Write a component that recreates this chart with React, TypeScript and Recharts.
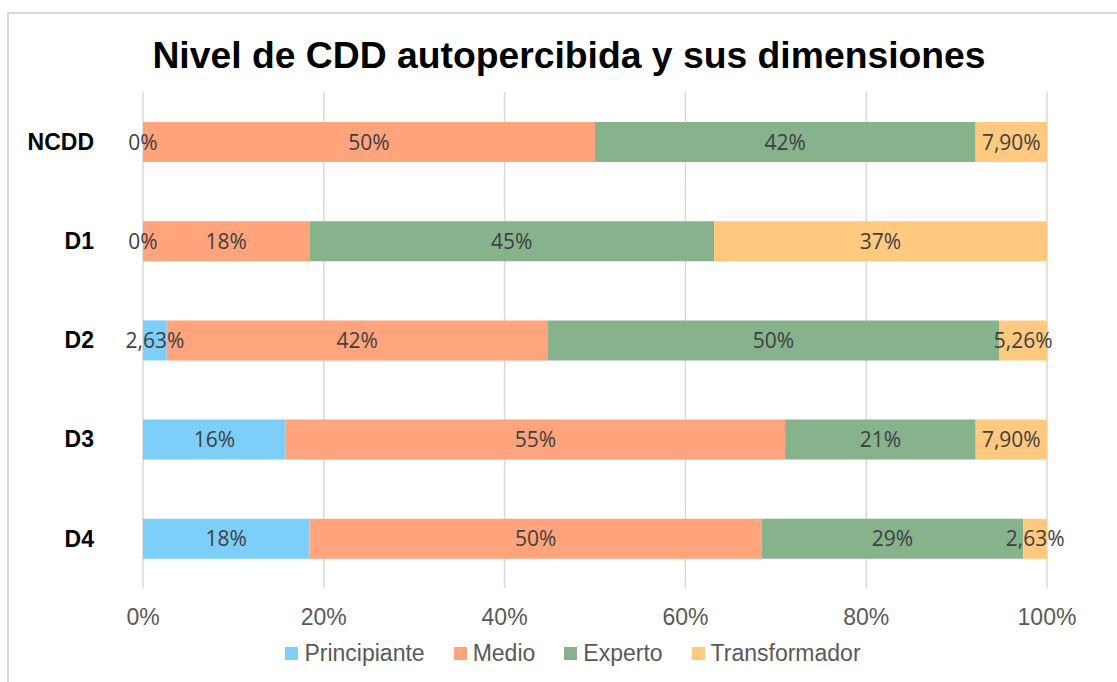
import { Bar, BarChart, CartesianGrid, LabelList, XAxis, YAxis } from "recharts";

const categories = ["NCDD", "D1", "D2", "D3", "D4"];

const principiante = [0, 0, 2.63, 15.8, 18.4];
const medio = [50, 18.4, 42.1, 55.3, 50];
const experto = [42.1, 44.7, 50, 21.1, 28.9];
const transformador = [7.9, 36.8, 5.26, 7.9, 2.63];

const principianteLabels = ["0%", "0%", "2,63%", "16%", "18%"];
const medioLabels = ["50%", "18%", "42%", "55%", "50%"];
const expertoLabels = ["42%", "45%", "50%", "21%", "29%"];
const transformadorLabels = ["7,90%", "37%", "5,26%", "7,90%", "2,63%"];

const xTicks = [0, 0.2, 0.4, 0.6, 0.8, 1];

const series = [
  { key: "principiante", name: "Principiante", color: "#7DCEF8" },
  { key: "medio", name: "Medio", color: "#FFA47C" },
  { key: "experto", name: "Experto", color: "#86B28C" },
  { key: "transformador", name: "Transformador", color: "#FFC980" },
];

const data = categories.map((name, i) => ({
  name,
  principiante: principiante[i],
  medio: medio[i],
  experto: experto[i],
  transformador: transformador[i],
  principianteLabel: principianteLabels[i],
  medioLabel: medioLabels[i],
  expertoLabel: expertoLabels[i],
  transformadorLabel: transformadorLabels[i],
}));

const sans = "'Liberation Sans', Arial, sans-serif";

// draws the label even when the segment has zero width (the "0%" ones)
const SegmentLabel = (props: any) => {
  const { x, y, width, height, value } = props;
  if (value == null || x == null) return null;
  return (
    <text
      x={Number(x) + Number(width || 0) / 2}
      y={Number(y) + Number(height || 0) / 2}
      dy="0.36em"
      textAnchor="middle"
      fill="#404040"
      fontSize={21}
      fontFamily="'Open Sans', sans-serif"
    >
      {value}
    </text>
  );
};

export default function App() {
  return (
    <div
      style={{
        position: "absolute",
        left: 0,
        top: 0,
        width: 1117,
        height: 682,
        overflow: "hidden",
        background: "#fff",
        fontFamily: sans,
      }}
    >
      <div
        style={{
          position: "absolute",
          left: 7,
          top: 12,
          width: 1200,
          height: 800,
          borderTop: "2px solid #D9D9D9",
          borderLeft: "2px solid #D9D9D9",
        }}
      />

      <div
        style={{
          position: "absolute",
          left: 0,
          width: 1138,
          top: 37,
          textAlign: "center",
          fontSize: 37.3,
          lineHeight: "36px",
          fontWeight: "bold",
          color: "#000",
          whiteSpace: "nowrap",
        }}
      >
        Nivel de CDD autopercibida y sus dimensiones
      </div>

      <div style={{ position: "absolute", left: 0, top: 0 }}>
        <BarChart
          width={1117}
          height={682}
          data={data}
          layout="vertical"
          stackOffset="expand"
          margin={{ top: 92, right: 70, bottom: 64, left: 0 }}
        >
          <CartesianGrid horizontal={false} stroke="#D9D9D9" strokeWidth={1.5} />
          <XAxis
            type="number"
            domain={[0, 1]}
            ticks={xTicks}
            tickFormatter={(v) => `${Math.round(v * 100)}%`}
            axisLine={false}
            tickLine={false}
            height={30}
            tickMargin={15}
            tick={{ fill: "#595959", fontSize: 23, fontFamily: sans }}
          />
          <YAxis
            type="category"
            dataKey="name"
            width={143}
            axisLine={false}
            tickLine={false}
            tickMargin={43}
            tick={{ fill: "#000", fontSize: 23, fontWeight: "bold", fontFamily: sans }}
          />
          {series.map((s) => (
            <Bar
              key={s.key}
              dataKey={s.key}
              name={s.name}
              stackId="a"
              fill={s.color}
              barSize={40}
              minPointSize={(v: any) => (v === 0 ? 0.01 : 0)}
              isAnimationActive={false}
            >
              <LabelList dataKey={`${s.key}Label`} content={SegmentLabel} />
            </Bar>
          ))}
        </BarChart>
      </div>

      <div
        style={{
          position: "absolute",
          left: 0,
          width: 1146,
          top: 639,
          display: "flex",
          justifyContent: "center",
          gap: 29,
          fontSize: 23,
          lineHeight: "28px",
          color: "#595959",
          whiteSpace: "nowrap",
        }}
      >
        {series.map((s) => (
          <div key={s.key} style={{ display: "flex", alignItems: "center" }}>
            <span
              style={{
                display: "inline-block",
                width: 13,
                height: 13,
                background: s.color,
                marginRight: 6,
              }}
            />
            <span>{s.name}</span>
          </div>
        ))}
      </div>
    </div>
  );
}
